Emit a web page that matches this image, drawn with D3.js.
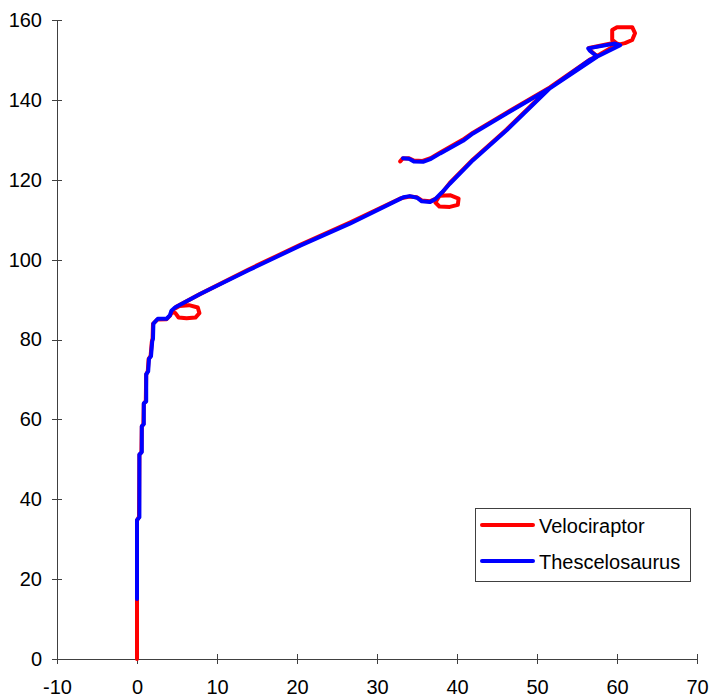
<!DOCTYPE html>
<html lang="en">
<head>
    <meta charset="UTF-8">
    <title>Trackway</title>
    <script src="https://cdnjs.cloudflare.com/ajax/libs/d3/7.8.5/d3.min.js"></script>
    <style>
        body { margin: 0; background: #fff; }
        text { font-family: "Liberation Sans", Arial, sans-serif; }
    </style>
</head>
<body>
<div id="chart"></div>

<script>
    // track coordinates, [x, y]
    var velociraptor = [
        [0, 0], [0, 34.7], [0.25, 35.6], [0.3, 51.1], [0.55, 51.8], [0.6, 58.2], [0.8, 58.8],
        [0.85, 63.9], [1.1, 64.6], [1.15, 71.2], [1.35, 72.1], [1.45, 75.1], [1.7, 75.9],
        [1.85, 79.4], [1.95, 80.3], [2.0, 83.9], [2.55, 85.0], [3.7, 85.1], [4.1, 85.9],
        [4.4, 86.9], [4.8, 86.6], [5.2, 85.5], [6.2, 85.3], [7.3, 85.5], [7.8, 86.6],
        [7.6, 88.0], [6.5, 88.6], [5.3, 88.4], [4.7, 87.7], [4.9, 88.2],
        [7.8, 91.3], [14, 97.6], [20.4, 103.7], [26.6, 109.3], [32.9, 115.3],
        [33.3, 115.5], [34.1, 115.8], [35, 115.6], [35.6, 114.8], [36.6, 114.6], [37.3, 115.2],
        [37.9, 116.0], [39.2, 116.1], [40.2, 115.3], [40.1, 113.7], [39.1, 113.2], [37.8, 113.3],
        [37.3, 114.3], [37.7, 115.6], [38.2, 116.9], [39.1, 119.2], [42, 125.1], [46.2, 132.6],
        [51.6, 143.1], [57.5, 151.0], [59.4, 153.2], [60.2, 153.8], [59.4, 155.0], [59.4, 157.5],
        [60.0, 158.2], [61.9, 158.2], [62.25, 156.7], [61.9, 155.0], [61.0, 154.2], [60.3, 153.9],
        [59.7, 154.3], [56.5, 153.0], [56.7, 152.3], [57.5, 150.9], [56.6, 150.1], [51.6, 143.1],
        [46.2, 136.8], [42, 131.8], [40.7, 130.0], [37.9, 126.8], [36.7, 125.4], [35.7, 124.7],
        [34.6, 124.8], [34, 125.4], [33.2, 125.3], [32.9, 124.6]
    ];

    var thescelosaurus = [
        [0, 15], [0, 34.8], [0.3, 35.5], [0.3, 51.2], [0.6, 51.8], [0.6, 58.3], [0.85, 58.8],
        [0.85, 64], [1.15, 64.5], [1.15, 71.3], [1.4, 72], [1.5, 75.2], [1.75, 75.8],
        [1.9, 79.5], [2.0, 80.2], [2.05, 84], [2.6, 85.2], [3.7, 85.2], [4.1, 86],
        [4.3, 87.2], [4.75, 88], [7.9, 91.4], [14, 97.4], [20.4, 103.5], [26.6, 109], [32.9, 115.2],
        [33.3, 115.6], [34.1, 115.9], [35, 115.5], [35.6, 114.6], [36.6, 114.4], [37.25, 115.1],
        [38.1, 116.8], [39.1, 119], [42, 124.9], [46.2, 132.4], [51.6, 142.9], [57.5, 150.8],
        [60.4, 153.7], [59.75, 154.1], [56.4, 152.9], [56.6, 152.3], [57.5, 150.9], [56.6, 150],
        [51.6, 142.9], [46.2, 136.6], [42, 131.6], [40.75, 129.75], [37.9, 126.6], [36.75, 125.25],
        [35.75, 124.5], [34.6, 124.6], [34, 125.25], [33.25, 125.4]
    ];

    var seriesNames = ["Velociraptor", "Thescelosaurus"];
    var seriesColors = ["#ff0000", "#0000ff"];
    var xTicks = [-10, 0, 10, 20, 30, 40, 50, 60, 70];
    var yTicks = [0, 20, 40, 60, 80, 100, 120, 140, 160];

    var width = 709;
    var height = 698;

    var svg = d3.select("#chart")
        .append("svg")
        .attr("width", width)
        .attr("height", height);
    svg.append("rect")
        .attr("width", width)
        .attr("height", height)
        .attr("fill", "#fff");

    var x = d3.scaleLinear().domain([-10, 70]).range([57, 697]);
    var y = d3.scaleLinear().domain([0, 160]).range([659, 20]);

    // plain hyphen for negatives, like the original
    var fmt = function (d) { return String(d); };

    // y axis, ticks cross the line
    var yAxis = svg.append("g")
        .attr("transform", "translate(" + x(-10) + ",0)")
        .call(d3.axisLeft(y).tickValues(yTicks).tickFormat(fmt)
            .tickSize(5).tickPadding(10).tickSizeOuter(0));
    yAxis.selectAll(".tick line").attr("x1", 5);

    var xAxis = svg.append("g")
        .attr("transform", "translate(0," + y(0) + ")")
        .call(d3.axisBottom(x).tickValues(xTicks).tickFormat(fmt)
            .tickSize(5).tickPadding(16).tickSizeOuter(0));
    xAxis.selectAll(".tick line").attr("y1", -5);

    svg.selectAll(".domain, .tick line")
        .attr("stroke", "#404040")
        .attr("shape-rendering", "crispEdges");
    svg.selectAll(".tick text")
        .attr("font-family", "'Liberation Sans', Arial, sans-serif")
        .attr("font-size", 20)
        .attr("fill", "#000");

    var line = d3.line()
        .x(function (d) { return x(d[0]); })
        .y(function (d) { return y(d[1]); });

    [velociraptor, thescelosaurus].forEach(function (data, i) {
        svg.append("path")
            .datum(data)
            .attr("d", line)
            .attr("fill", "none")
            .attr("stroke", seriesColors[i])
            .attr("stroke-width", 4)
            .attr("stroke-linejoin", "round")
            .attr("stroke-linecap", "round");
    });

    // legend
    var legend = svg.append("g");
    legend.append("rect")
        .attr("x", 475.5)
        .attr("y", 508.5)
        .attr("width", 215)
        .attr("height", 73)
        .attr("fill", "#fff")
        .attr("stroke", "#404040");

    seriesNames.forEach(function (name, i) {
        var ly = 525 + i * 36;
        legend.append("line")
            .attr("x1", 482).attr("x2", 533)
            .attr("y1", ly).attr("y2", ly)
            .attr("stroke", seriesColors[i])
            .attr("stroke-width", 4)
            .attr("stroke-linecap", "round");
        legend.append("text")
            .attr("x", 539)
            .attr("y", ly + 8)
            .attr("font-size", 20)
            .attr("fill", "#000")
            .text(name);
    });
</script>

</body>
</html>
